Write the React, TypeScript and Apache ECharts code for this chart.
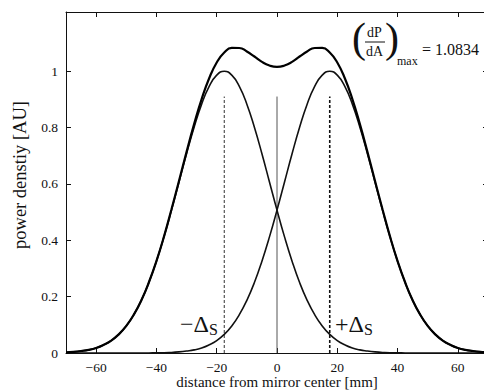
import React, { useEffect, useRef } from 'react';
import * as echarts from 'echarts';

const positions = [
  -70, -67.5, -65, -62.5, -60, -57.5, -55, -52.5, -50, -47.5, -45, -42.5, -40, -37.5, -35, -32.5, -30, -27.5, -25, -22.5,
  -20, -17.5, -15, -12.5, -10, -7.5, -5, -2.5, 0, 2.5, 5, 7.5, 10, 12.5, 15, 17.5, 20, 22.5, 25, 27.5,
  30, 32.5, 35, 37.5, 40, 42.5, 45, 47.5, 50, 52.5, 55, 57.5, 60, 62.5, 65, 67.5, 70,
];
const leftBeam = [
  0.002, 0.004, 0.007, 0.011, 0.018, 0.029, 0.044, 0.066, 0.096, 0.136, 0.187, 0.25, 0.326, 0.412, 0.507, 0.607, 0.707, 0.801, 0.883, 0.946,
  0.986, 1.0, 0.986, 0.946, 0.883, 0.801, 0.707, 0.607, 0.507, 0.412, 0.326, 0.25, 0.187, 0.136, 0.096, 0.066, 0.044, 0.029, 0.018, 0.011,
  0.007, 0.004, 0.002, 0.001, 0.001, 0, 0, 0, 0, 0, 0, 0, 0, 0, 0, 0, 0,
];
const rightBeam = [
  0, 0, 0, 0, 0, 0, 0, 0, 0, 0, 0, 0, 0.001, 0.001, 0.002, 0.004, 0.007, 0.011, 0.018, 0.029,
  0.044, 0.066, 0.096, 0.136, 0.187, 0.25, 0.326, 0.412, 0.507, 0.607, 0.707, 0.801, 0.883, 0.946, 0.986, 1.0, 0.986, 0.946, 0.883, 0.801,
  0.707, 0.607, 0.507, 0.412, 0.326, 0.25, 0.187, 0.136, 0.096, 0.066, 0.044, 0.029, 0.018, 0.011, 0.007, 0.004, 0.002,
];
const totalPower = [
  0.002, 0.004, 0.007, 0.011, 0.018, 0.029, 0.044, 0.066, 0.096, 0.136, 0.187, 0.251, 0.326, 0.413, 0.51, 0.611, 0.714, 0.812, 0.901, 0.975,
  1.031, 1.066, 1.0824, 1.0822, 1.07, 1.052, 1.033, 1.02, 1.015, 1.02, 1.033, 1.052, 1.07, 1.0822, 1.0824, 1.066, 1.031, 0.975, 0.901, 0.812,
  0.714, 0.611, 0.51, 0.413, 0.326, 0.251, 0.187, 0.136, 0.096, 0.066, 0.044, 0.029, 0.018, 0.011, 0.007, 0.004, 0.002,
];
const xTicks = [-60, -40, -20, 0, 20, 40, 60];
const yTicks = [0, 0.2, 0.4, 0.6, 0.8, 1];
const shiftMarkers = [-17.5, 17.5];
const centerMarker = [0];
const markerTop = 0.91;
const maxDensityLabel = '1.0834';

const FONT = 'Liberation Serif';

export default function App() {
  const ref = useRef<HTMLDivElement>(null);
  useEffect(() => {
    if (!ref.current) return;
    const chart = echarts.init(ref.current, null, { renderer: 'svg' });
    const pair = (arr: number[]) => positions.map((x, i) => [x, arr[i]]);
    const fmtX = (v: number) => (v < 0 ? '\u2212' + Math.abs(v) : String(v));
    const fmtY = (v: number) => String(Math.round(v * 10) / 10);
    const axisCommonX = {
      type: 'value',
      min: -70,
      max: 70,
      axisLine: { show: true, onZero: false, lineStyle: { color: '#111', width: 1 } },
      splitLine: { show: false },
    };
    const axisCommonY = {
      type: 'value',
      min: 0,
      max: 1.21,
      axisLine: { show: true, onZero: false, lineStyle: { color: '#111', width: 1 } },
      splitLine: { show: false },
    };
    const vline = (x: number, dashed: boolean, width: number, color: string) => ({
      type: 'line',
      data: [[x, 0], [x, markerTop]],
      symbol: 'none',
      lineStyle: { color, width, type: dashed ? [3, 2] : 'solid' },
      silent: true,
      z: 1,
    });
    const deltaRich = {
      a: { fontFamily: FONT, fontSize: 24, fill: '#111' },
      s: { fontFamily: FONT, fontSize: 16, fill: '#111', verticalAlign: 'bottom', padding: [10, 0, 0, 0] },
    };
    chart.setOption({
      animation: false,
      backgroundColor: '#fff',
      grid: { left: 58, right: 4, top: 4, bottom: 39, outerBoundsMode: 'none', containLabel: false },
      xAxis: [
        {
          ...axisCommonX,
          position: 'bottom',
          axisTick: { inside: true, length: 5, customValues: xTicks, lineStyle: { color: '#111' } },
          axisLabel: { customValues: xTicks, formatter: fmtX, color: '#111', fontFamily: FONT, fontSize: 13.5, margin: 7 },
          name: 'distance from mirror center [mm]',
          nameLocation: 'middle',
          nameGap: 21,
          nameMoveOverlap: false,
          nameTextStyle: { color: '#111', fontFamily: FONT, fontSize: 15, lineHeight: 15 },
        },
        {
          ...axisCommonX,
          position: 'top',
          axisTick: { inside: true, length: 5, customValues: xTicks, lineStyle: { color: '#111' } },
          axisLabel: { show: false },
        },
      ],
      yAxis: [
        {
          ...axisCommonY,
          position: 'left',
          axisTick: { inside: true, length: 5, customValues: yTicks, lineStyle: { color: '#111' } },
          axisLabel: { customValues: yTicks, formatter: fmtY, color: '#111', fontFamily: FONT, fontSize: 13.5, margin: 8 },
          name: 'power denstiy [AU]',
          nameLocation: 'middle',
          nameGap: 37,
          nameRotate: 90,
          nameTextStyle: { color: '#111', fontFamily: FONT, fontSize: 18.5, padding: [0, 0, 0, 15] },
        },
        {
          ...axisCommonY,
          position: 'right',
          axisTick: { inside: true, length: 5, customValues: yTicks, lineStyle: { color: '#111' } },
          axisLabel: { show: false },
        },
      ],
      series: [
        vline(shiftMarkers[0], true, 1, '#333'),
        vline(shiftMarkers[1], true, 1.6, '#111'),
        vline(centerMarker[0], false, 1, '#555'),
        { type: 'line', data: pair(leftBeam), smooth: true, symbol: 'none', lineStyle: { color: '#111', width: 1.6 }, z: 3 },
        { type: 'line', data: pair(rightBeam), smooth: true, symbol: 'none', lineStyle: { color: '#111', width: 1.6 }, z: 3 },
        { type: 'line', data: pair(totalPower), smooth: true, symbol: 'none', lineStyle: { color: '#000', width: 2.2 }, z: 4 },
      ],
      graphic: [
        { type: 'text', left: 172, top: 304, style: { text: '{a|\u2212\u0394}{s|S}', rich: deltaRich } },
        { type: 'text', left: 327, top: 304, style: { text: '{a|+\u0394}{s|S}', rich: deltaRich } },
        { type: 'text', left: 344, top: 9, style: { text: '(', fontFamily: FONT, fontSize: 42, fill: '#111' } },
        { type: 'text', left: 359, top: 17, style: { text: 'dP', fontFamily: FONT, fontSize: 14, fill: '#111' } },
        { type: 'line', shape: { x1: 357, y1: 34, x2: 377, y2: 34 }, style: { stroke: '#111', lineWidth: 1 } },
        { type: 'text', left: 358, top: 36, style: { text: 'dA', fontFamily: FONT, fontSize: 14, fill: '#111' } },
        { type: 'text', left: 377, top: 9, style: { text: ')', fontFamily: FONT, fontSize: 42, fill: '#111' } },
        { type: 'text', left: 389, top: 47, style: { text: 'max', fontFamily: FONT, fontSize: 12, fill: '#111' } },
        { type: 'text', left: 414, top: 33, style: { text: '= ' + maxDensityLabel, fontFamily: FONT, fontSize: 16, fill: '#111' } },
      ],
    });
    return () => chart.dispose();
  }, []);
  return <div ref={ref} style={{ width: 484, height: 384 }} />;
}
